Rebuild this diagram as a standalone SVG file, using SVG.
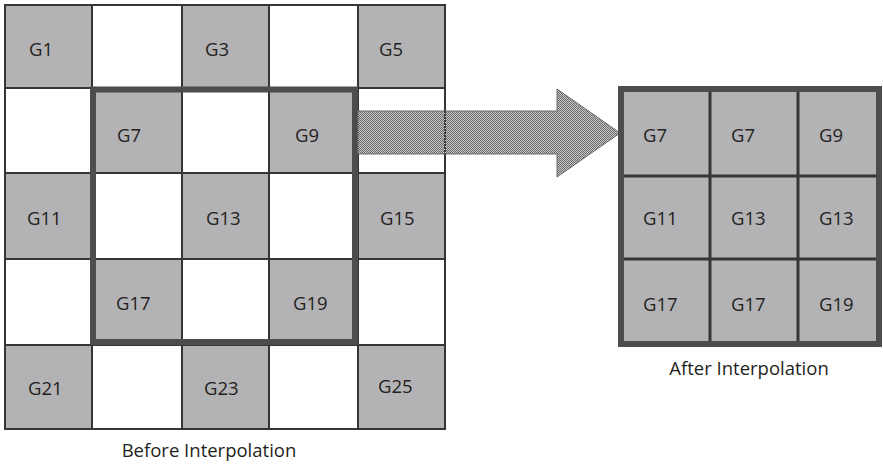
<svg xmlns="http://www.w3.org/2000/svg" width="883" height="465" viewBox="0 0 883 465">
  <style>
    .cell { stroke: #363636; stroke-width: 2; }
    .on { fill: #b3b3b6; }
    .off { fill: #ffffff; }
    .lbl { font-family: "Open Sans", "Liberation Sans", sans-serif; font-size: 18.5px; fill: #231f20; }
    .cap { font-family: "Open Sans", "Liberation Sans", sans-serif; font-size: 18.5px; fill: #231f20; text-anchor: middle; }
    .frame { fill: none; stroke: #4d4d4f; stroke-width: 6; }
    .div { stroke: #363636; stroke-width: 3; }
  </style>
  <defs>
    <pattern id="dots" width="2" height="2" patternUnits="userSpaceOnUse">
      <rect width="2" height="2" fill="#c8c8c8"/>
      <rect width="1" height="1" fill="#6a6a6a"/>
      <rect x="1" y="1" width="1" height="1" fill="#6a6a6a"/>
    </pattern>
  </defs>
  <rect width="883" height="465" fill="#ffffff"/>

  <!-- 5x5 source grid -->
  <g id="source-grid">
    <g id="c1"><rect class="cell on" x="5" y="5" width="87" height="83"/><text class="lbl" x="29" y="56">G1</text></g>
    <g id="c2"><rect class="cell off" x="92" y="5" width="90" height="83"/></g>
    <g id="c3"><rect class="cell on" x="182" y="5" width="87" height="83"/><text class="lbl" x="205" y="56">G3</text></g>
    <g id="c4"><rect class="cell off" x="269" y="5" width="89" height="83"/></g>
    <g id="c5"><rect class="cell on" x="358" y="5" width="87" height="83"/><text class="lbl" x="379" y="56">G5</text></g>

    <g id="c6"><rect class="cell off" x="5" y="88" width="87" height="85"/></g>
    <g id="c7"><rect class="cell on" x="92" y="88" width="90" height="85"/><text class="lbl" x="117" y="142">G7</text></g>
    <g id="c8"><rect class="cell off" x="182" y="88" width="87" height="85"/></g>
    <g id="c9"><rect class="cell on" x="269" y="88" width="89" height="85"/><text class="lbl" x="295" y="142">G9</text></g>
    <g id="c10"><rect class="cell off" x="358" y="88" width="87" height="85"/></g>

    <g id="c11"><rect class="cell on" x="5" y="173" width="87" height="86"/><text class="lbl" x="27" y="225">G11</text></g>
    <g id="c12"><rect class="cell off" x="92" y="173" width="90" height="86"/></g>
    <g id="c13"><rect class="cell on" x="182" y="173" width="87" height="86"/><text class="lbl" x="206" y="225">G13</text></g>
    <g id="c14"><rect class="cell off" x="269" y="173" width="89" height="86"/></g>
    <g id="c15"><rect class="cell on" x="358" y="173" width="87" height="86"/><text class="lbl" x="380" y="225">G15</text></g>

    <g id="c16"><rect class="cell off" x="5" y="259" width="87" height="86"/></g>
    <g id="c17"><rect class="cell on" x="92" y="259" width="90" height="86"/><text class="lbl" x="116" y="310">G17</text></g>
    <g id="c18"><rect class="cell off" x="182" y="259" width="87" height="86"/></g>
    <g id="c19"><rect class="cell on" x="269" y="259" width="89" height="86"/><text class="lbl" x="293" y="310">G19</text></g>
    <g id="c20"><rect class="cell off" x="358" y="259" width="87" height="86"/></g>

    <g id="c21"><rect class="cell on" x="5" y="345" width="87" height="84"/><text class="lbl" x="28" y="395">G21</text></g>
    <g id="c22"><rect class="cell off" x="92" y="345" width="90" height="84"/></g>
    <g id="c23"><rect class="cell on" x="182" y="345" width="87" height="84"/><text class="lbl" x="204" y="395">G23</text></g>
    <g id="c24"><rect class="cell off" x="269" y="345" width="89" height="84"/></g>
    <g id="c25"><rect class="cell on" x="358" y="345" width="87" height="84"/><text class="lbl" x="378" y="393">G25</text></g>

    <!-- selected 3x3 window -->
    <rect id="window" class="frame" x="93" y="89.5" width="262" height="252.5"/>
  </g>

  <!-- connectors -->
  <g id="connectors">
    <path d="M358,111 H557 V89 L620,133 L557,177 V154 H358 Z" fill="url(#dots)" stroke="#6a6a6a" stroke-width="1"/>
    <line x1="445" y1="111" x2="445" y2="154" stroke="#363636" stroke-width="2" stroke-dasharray="2 1"/>
  </g>

  <!-- 3x3 interpolated grid -->
  <g id="result-grid">
    <g id="r1"><rect class="on" x="621" y="89" width="89" height="87"/><text class="lbl" x="643" y="142">G7</text></g>
    <g id="r2"><rect class="on" x="710" y="89" width="88" height="87"/><text class="lbl" x="731" y="142">G7</text></g>
    <g id="r3"><rect class="on" x="798" y="89" width="81" height="87"/><text class="lbl" x="819" y="142">G9</text></g>
    <g id="r4"><rect class="on" x="621" y="176" width="89" height="83"/><text class="lbl" x="643" y="225">G11</text></g>
    <g id="r5"><rect class="on" x="710" y="176" width="88" height="83"/><text class="lbl" x="731" y="225">G13</text></g>
    <g id="r6"><rect class="on" x="798" y="176" width="81" height="83"/><text class="lbl" x="819" y="225">G13</text></g>
    <g id="r7"><rect class="on" x="621" y="259" width="89" height="85"/><text class="lbl" x="643" y="311">G17</text></g>
    <g id="r8"><rect class="on" x="710" y="259" width="88" height="85"/><text class="lbl" x="731" y="311">G17</text></g>
    <g id="r9"><rect class="on" x="798" y="259" width="81" height="85"/><text class="lbl" x="819" y="311">G19</text></g>
    <line class="div" x1="710" y1="89" x2="710" y2="344"/>
    <line class="div" x1="798" y1="89" x2="798" y2="344"/>
    <line class="div" x1="621" y1="176" x2="879" y2="176"/>
    <line class="div" x1="621" y1="259" x2="879" y2="259"/>
    <rect class="frame" x="621" y="89" width="258" height="255"/>
  </g>

  <text class="cap" x="209" y="457">Before Interpolation</text>
  <text class="cap" x="749" y="375">After Interpolation</text>
</svg>
